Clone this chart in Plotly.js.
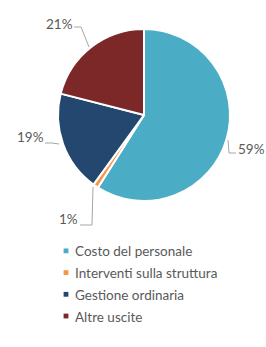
<!DOCTYPE html>
<html><head><meta charset="utf-8">
<script src="https://cdn.plot.ly/plotly-3.0.1.min.js"></script>
<style>html,body{margin:0;padding:0;background:#fff}#c{width:266px;height:347px}</style>
</head><body><div id="c"></div>
<script>
const labels = ["Costo del personale", "Interventi sulla struttura", "Gestione ordinaria", "Altre uscite"];
const values = [59, 1, 19, 21];
const colors = ["#4bacc6", "#f79646", "#23476f", "#7c2828"];

const W = 266, H = 347;
const px = x => x / W, py = y => 1 - y / H;
const total = values.reduce((a, b) => a + b, 0);
const pctText = values.map(v => Math.round(v / total * 100) + "%");

// label anchor points (pixels) and leader-line paths
const labelPos = [
  {x: 251, y: 149, path: [[236,153],[229,153],[228,140]]},
  {x: 68.5, y: 219, path: [[80,225],[92,225],[93,187]]},
  {x: 30.5, y: 137, path: [[45,143],[52,143],[59,144]]},
  {x: 59, y: 24, path: [[74,27],[81,27],[89,47]]}
];

const annotations = labelPos.map((p, i) => ({
  xref: "paper", yref: "paper", x: px(p.x), y: py(p.y), xanchor: "center", yanchor: "middle",
  text: pctText[i], showarrow: false,
  font: {family: "Lato, sans-serif", size: 13.5, color: "#595959"}
}));
const shapes = labelPos.map(p => ({
  type: "path", xref: "paper", yref: "paper",
  path: "M" + p.path.map(q => px(q[0]) + "," + py(q[1])).join(" L"),
  line: {color: "#a6a6a6", width: 1}
}));

const legendLabels = labels.map(l => "<span style='font-size:13.5px'>" + l + "</span>");

Plotly.newPlot("c", [{
  type: "pie", labels: legendLabels, values: values, sort: false, direction: "clockwise", rotation: 0,
  marker: {colors: colors, line: {color: "#ffffff", width: 2}},
  textinfo: "none", hoverinfo: "none",
  domain: {x: [px(58), px(230)], y: [py(201), py(29)]}
}], {
  width: W, height: H, margin: {l: 0, r: 0, t: 0, b: 0},
  paper_bgcolor: "#fff", showlegend: true,
  legend: {x: px(35), y: py(235), xanchor: "left", yanchor: "top",
    font: {family: "Lato, sans-serif", size: 14.4, color: "#595959"}},
  annotations: annotations, shapes: shapes
}, {staticPlot: true}).then(() => {
  document.querySelectorAll("#c .legendpoints path").forEach(p => {
    p.setAttribute("transform", "translate(31,0) scale(0.4)");
    p.style.strokeWidth = "0";
  });
});
</script></body></html>
